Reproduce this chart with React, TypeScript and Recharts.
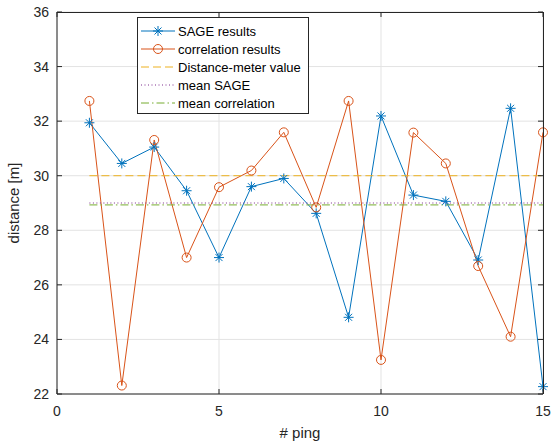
import React from 'react'
import { LineChart, Line, XAxis, YAxis, CartesianGrid } from 'recharts'

const PINGS = [1, 2, 3, 4, 5, 6, 7, 8, 9, 10, 11, 12, 13, 14, 15]
const SAGE = [31.94, 30.45, 31.05, 29.45, 27.0, 29.6, 29.9, 28.62, 24.81, 32.19, 29.29, 29.06, 26.91, 32.47, 22.27]
const CORR = [32.74, 22.31, 31.31, 27.0, 29.58, 30.19, 31.59, 28.84, 32.74, 23.25, 31.58, 30.45, 26.69, 24.1, 31.59]
const METER_VALUE = 30
const MEAN_SAGE = 29.0
const MEAN_CORR = 28.93
const X_TICKS = [0, 5, 10, 15]
const Y_TICKS = [22, 24, 26, 28, 30, 32, 34, 36]
const X_DOMAIN = [0, 15]
const Y_DOMAIN = [22, 36]

const BLUE = '#0072BD'
const ORANGE = '#D95319'
const YELLOW = '#EDB120'
const PURPLE = '#7E2F8E'
const GREEN = '#77AC30'
const AXIS = '#262626'
const FONT = '"Liberation Sans", Arial, Helvetica, sans-serif'

const W = 556
const H = 447
const MARGIN = { top: 12, right: 13, bottom: 0, left: 0 }
const Y_AXIS_W = 57
const X_AXIS_H = 53
const PLOT_W = W - MARGIN.left - MARGIN.right - Y_AXIS_W
const PLOT_H = H - MARGIN.top - MARGIN.bottom - X_AXIS_H

const data = PINGS.map((p, i) => ({ ping: p, sage: SAGE[i], corr: CORR[i] }))
const span = (v: number) => [
  { ping: PINGS[0], v },
  { ping: PINGS[PINGS.length - 1], v },
]

const LEGEND = [
  { label: 'SAGE results', color: BLUE, dash: undefined, marker: 'star' },
  { label: 'correlation results', color: ORANGE, dash: undefined, marker: 'circle' },
  { label: 'Distance-meter value', color: YELLOW, dash: '8 4', marker: null },
  { label: 'mean SAGE', color: PURPLE, dash: '1 2.5', marker: null },
  { label: 'mean correlation', color: GREEN, dash: '8 3 1.5 3', marker: null },
]

function Star({ cx, cy, color = BLUE }: any) {
  if (cx == null || cy == null) return null
  return (
    <g stroke={color} strokeWidth={1}>
      <line x1={cx - 5} y1={cy} x2={cx + 5} y2={cy} />
      <line x1={cx} y1={cy - 5} x2={cx} y2={cy + 5} />
      <line x1={cx - 3.5} y1={cy - 3.5} x2={cx + 3.5} y2={cy + 3.5} />
      <line x1={cx - 3.5} y1={cy + 3.5} x2={cx + 3.5} y2={cy - 3.5} />
    </g>
  )
}

function Ring({ cx, cy }: any) {
  if (cx == null || cy == null) return null
  return <circle cx={cx} cy={cy} r={4.5} fill="none" stroke={ORANGE} strokeWidth={1} />
}

// inward tick marks on both the bottom and the top edge of the box
function BottomTick({ x, y, payload }: any) {
  const top = MARGIN.top
  return (
    <g>
      <line x1={x} y1={y} x2={x} y2={y - 5} stroke={AXIS} />
      <line x1={x} y1={top} x2={x} y2={top + 5} stroke={AXIS} />
      <text x={x} y={y + 22} textAnchor="middle" fill={AXIS} fontSize={14} fontFamily={FONT}>
        {payload.value}
      </text>
    </g>
  )
}

// inward tick marks on the left and right edge
function LeftTick({ x, y, payload }: any) {
  const right = MARGIN.left + Y_AXIS_W + PLOT_W
  return (
    <g>
      <line x1={x} y1={y} x2={x + 5} y2={y} stroke={AXIS} />
      <line x1={right} y1={y} x2={right - 5} y2={y} stroke={AXIS} />
      <text x={x - 8} y={y + 5} textAnchor="end" fill={AXIS} fontSize={14} fontFamily={FONT}>
        {payload.value}
      </text>
    </g>
  )
}

function LegendBox() {
  return (
    <div
      style={{
        position: 'absolute',
        left: 137,
        top: 17,
        width: 170,
        height: 95,
        background: '#fff',
        border: `1px solid ${AXIS}`,
        fontFamily: FONT,
        fontSize: 13,
        color: '#000',
      }}
    >
      {LEGEND.map((item, i) => (
        <div
          key={item.label}
          style={{ position: 'absolute', left: 0, top: 4 + i * 18, height: 18, display: 'flex', alignItems: 'center' }}
        >
          <svg width={40} height={18}>
            <line x1={3} y1={9} x2={37} y2={9} stroke={item.color} strokeWidth={1} strokeDasharray={item.dash} />
            {item.marker === 'star' && <Star cx={20} cy={9} />}
            {item.marker === 'circle' && <circle cx={20} cy={9} r={4.5} fill="none" stroke={ORANGE} />}
          </svg>
          <span style={{ whiteSpace: 'nowrap' }}>{item.label}</span>
        </div>
      ))}
    </div>
  )
}

export default function App() {
  return (
    <div style={{ position: 'absolute', left: 0, top: 0, width: W, height: H, background: '#fff' }}>
      <LineChart width={W} height={H} data={data} margin={MARGIN}>
        <CartesianGrid stroke="#e3e3e3" strokeWidth={1} />
        <XAxis
          dataKey="ping"
          type="number"
          domain={X_DOMAIN}
          ticks={X_TICKS}
          height={X_AXIS_H}
          tickSize={0}
          tickMargin={0}
          tick={<BottomTick />}
          axisLine={{ stroke: AXIS }}
          label={{ value: '# ping', position: 'insideBottom', offset: 9, fill: AXIS, fontSize: 15, fontFamily: FONT }}
        />
        <YAxis
          type="number"
          domain={Y_DOMAIN}
          ticks={Y_TICKS}
          width={Y_AXIS_W}
          tickSize={0}
          tickMargin={0}
          tick={<LeftTick />}
          axisLine={{ stroke: AXIS }}
          label={{
            value: 'distance [m]',
            angle: -90,
            position: 'insideLeft',
            offset: 14,
            style: { textAnchor: 'middle' },
            fill: AXIS,
            fontSize: 15,
            fontFamily: FONT,
          }}
        />
        <Line dataKey="sage" stroke={BLUE} strokeWidth={1} dot={<Star />} activeDot={false} isAnimationActive={false} />
        <Line dataKey="corr" stroke={ORANGE} strokeWidth={1} dot={<Ring />} activeDot={false} isAnimationActive={false} />
        <Line
          data={span(METER_VALUE)}
          dataKey="v"
          stroke={YELLOW}
          strokeWidth={1}
          strokeDasharray="8 4"
          dot={false}
          activeDot={false}
          isAnimationActive={false}
        />
        <Line
          data={span(MEAN_SAGE)}
          dataKey="v"
          stroke={PURPLE}
          strokeWidth={1}
          strokeDasharray="1 2.5"
          dot={false}
          activeDot={false}
          isAnimationActive={false}
        />
        <Line
          data={span(MEAN_CORR)}
          dataKey="v"
          stroke={GREEN}
          strokeWidth={1}
          strokeDasharray="8 3 1.5 3"
          dot={false}
          activeDot={false}
          isAnimationActive={false}
        />
      </LineChart>
      {/* top and right edges of the plot box */}
      <div
        style={{
          position: 'absolute',
          left: MARGIN.left + Y_AXIS_W,
          top: MARGIN.top,
          width: PLOT_W + 1,
          height: PLOT_H,
          boxSizing: 'border-box',
          borderTop: `1px solid ${AXIS}`,
          borderRight: `1px solid ${AXIS}`,
          pointerEvents: 'none',
        }}
      />
      <LegendBox />
    </div>
  )
}
